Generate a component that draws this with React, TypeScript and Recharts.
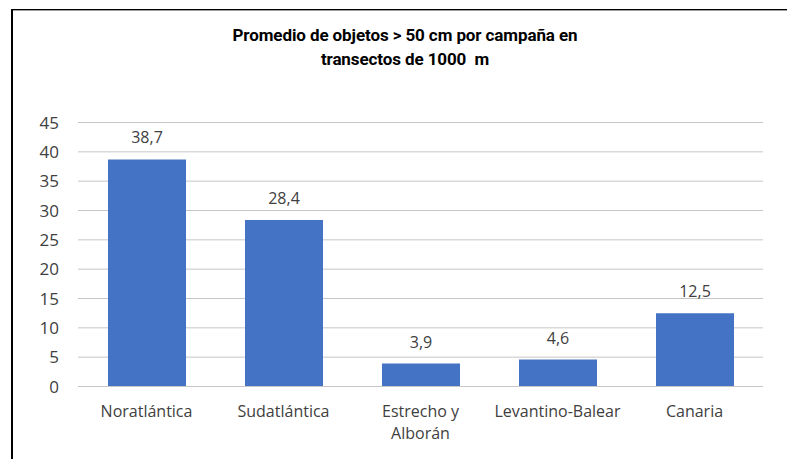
import React from 'react';
import { BarChart, Bar, XAxis, YAxis, CartesianGrid, LabelList } from 'recharts';

const categories = ['Noratlántica', 'Sudatlántica', 'Estrecho y\nAlborán', 'Levantino-Balear', 'Canaria'];
const values = [38.7, 28.4, 3.9, 4.6, 12.5];
const yTicks = [0, 5, 10, 15, 20, 25, 30, 35, 40, 45];
const titleLines = ['Promedio de objetos > 50 cm por campaña en', 'transectos de 1000  m'];

const data = categories.map((c, i) => ({ name: c, value: values[i] }));

const FONT = '"Open Sans", "Noto Sans", sans-serif';

const CatTick = (props: any) => {
  const { x, y, payload } = props;
  const lines = String(payload.value).split('\n');
  return (
    <g>
      {lines.map((l, i) => (
        <text
          key={i}
          x={x}
          y={y + 30 + i * 22}
          textAnchor="middle"
          fill="#404040"
          fontSize={16}
          fontFamily={FONT}
        >
          {l}
        </text>
      ))}
    </g>
  );
};

export default function App() {
  return (
    <div style={{ position: 'absolute', left: 0, top: 0, width: 787, height: 459, background: '#fff' }}>
      <div
        style={{
          position: 'absolute',
          left: 11,
          top: 9,
          width: 776,
          height: 450,
          borderTop: '1px solid #000',
          borderLeft: '2px solid #000',
          boxShadow: 'inset 0 1px 0 #a0a0a0',
        }}
      />
      <div
        style={{
          position: 'absolute',
          left: 0,
          top: 23,
          width: 810,
          textAlign: 'center',
          fontFamily: 'Roboto, sans-serif',
          fontWeight: 'bold',
          fontSize: 17,
          letterSpacing: -0.1,
          lineHeight: '24px',
          color: '#000',
        }}
      >
        {titleLines.map((t, i) => (
          <div key={i} style={{ whiteSpace: 'pre' }}>{t}</div>
        ))}
      </div>
      <div style={{ position: 'absolute', left: 0, top: 0 }}>
        <BarChart
          width={787}
          height={459}
          data={data}
          margin={{ top: 122.5, right: 24, bottom: 0, left: 0 }}
        >
          <CartesianGrid vertical={false} stroke="#c6c6c6" />
          <XAxis
            dataKey="name"
            interval={0}
            tickLine={false}
            axisLine={{ stroke: '#c6c6c6' }}
            tickSize={0}
            tickMargin={0}
            tick={<CatTick />}
            height={72.5}
          />
          <YAxis
            domain={[0, 45]}
            ticks={yTicks}
            interval={0}
            width={78}
            axisLine={false}
            tickLine={false}
            tickSize={6}
            tickMargin={13}
            tick={{ fill: '#404040', fontSize: 17, fontFamily: FONT }}
          />
          <Bar dataKey="value" fill="#4472C4" barSize={78} isAnimationActive={false}>
            <LabelList
              dataKey="value"
              position="top"
              offset={16}
              fill="#404040"
              fontSize={16}
              fontFamily={FONT}
              formatter={(v: any) => String(v).replace('.', ',')}
            />
          </Bar>
        </BarChart>
      </div>
    </div>
  );
}
